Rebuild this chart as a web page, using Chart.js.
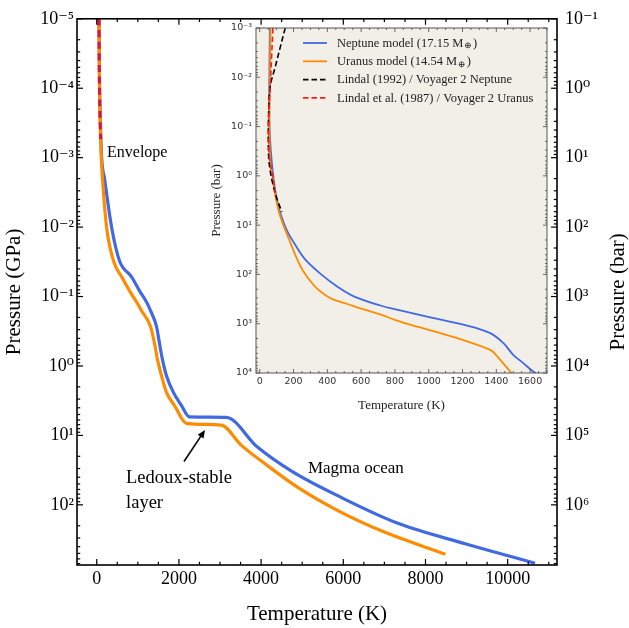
<!DOCTYPE html>
<html>
<head>
<meta charset="utf-8">
<script src="https://cdn.jsdelivr.net/npm/chart.js@4.4.0/dist/chart.umd.min.js"></script>
<style>
  html, body { margin: 0; padding: 0; background: #fff; }
  #wrap { position: relative; width: 629px; height: 628px; }
  #main { position: absolute; left: 0; top: 0; }
  #inset { position: absolute; left: 195px; top: 15px; }
</style>
</head>
<body>
<div id="wrap">
  <canvas id="main" width="629" height="628"></canvas>
  <canvas id="inset" width="360" height="405"></canvas>
</div>
<script>
// ─── profiles, full depth (T in K, P in GPa) ───────────────────────────────
const nepT = [55, 60, 70, 90, 120, 190, 364, 558, 848, 1042, 1212, 1309, 1454, 1527, 1600, 1697, 1866, 2060, 2254, 3151, 3903, 4751, 5963, 7345, 8969, 10666];
const nepP = [1e-5, 3.16e-5, 1e-4, 3.16e-4, 1e-3, 2.0e-3, 1.02e-2, 3.1e-2, 5.2e-2, 8.3e-2, 0.12, 0.16, 0.27, 0.47, 0.81, 1.38, 2.4, 3.7, 5.4, 5.5, 14.6, 33, 79, 186, 363, 692];

const uraT = [55, 68, 85, 110, 140, 242, 412, 606, 800, 970, 1091, 1309, 1406, 1479, 1576, 1697, 1891, 2182, 3030, 3515, 4121, 4921, 5890, 7030, 8484];
const uraP = [1e-5, 1e-4, 3.16e-4, 1e-3, 2.0e-3, 1.02e-2, 3.1e-2, 5.2e-2, 8.3e-2, 0.12, 0.16, 0.27, 0.47, 0.81, 1.38, 2.4, 3.7, 6.7, 7.1, 13.8, 26.3, 57.5, 123, 251, 513];

// Voyager 2 radio occultation, Uranus (GPa)
const lindalUraT = [55, 68, 85, 97];
const lindalUraP = [1e-5, 1e-4, 3.16e-4, 5.4e-4];

// ─── inset: outer layers (T in K, P in bar) ────────────────────────────────
const inNepT = [60, 57, 56, 58, 66, 80, 97, 122, 160, 210, 270, 364, 460, 560, 713, 831, 1009, 1204, 1364, 1441, 1500, 1560, 1618, 1635];
const inNepP = [1e-3, 1e-2, 3.16e-2, 0.1, 0.316, 1, 2.5, 5.75, 12.6, 25.1, 50.1, 100, 178, 282, 427, 537, 741, 1047, 1549, 2455, 4266, 6310, 9333, 1e4];

const inUraT = [64, 60, 57, 62, 75, 92, 115, 140, 175, 210, 255, 320, 365, 430, 520, 606, 713, 800, 890, 1108, 1364, 1403, 1440, 1482, 1490];
const inUraP = [1e-3, 1.58e-2, 0.1, 0.5, 1, 2.5, 5.6, 10, 20, 39.8, 83, 166, 229, 316, 398, 501, 646, 832, 1047, 1698, 3388, 4467, 6310, 9333, 1e4];

const lindalNepT = [151, 121, 91, 62, 52, 52, 60, 72, 100, 131];
const lindalNepP = [1e-3, 2.5e-3, 6.3e-3, 1.55e-2, 7.4e-2, 0.35, 0.71, 1.2, 2.8, 5.4];

const inLindalUraT = [78, 70, 62, 52, 55, 65, 78, 92];
const inLindalUraP = [1e-3, 4e-3, 1.55e-2, 7.4e-2, 0.35, 0.63, 1.05, 2.2];

// ─── axis ticks ────────────────────────────────────────────────────────────
const tempTicks = [0, 2000, 4000, 6000, 8000, 10000];
const gpaTicks = [1e-5, 1e-4, 1e-3, 1e-2, 1e-1, 1, 10, 100];
const barTicks = [1e-1, 1, 10, 100, 1e3, 1e4, 1e5, 1e6];
const inTempTicks = [0, 200, 400, 600, 800, 1000, 1200, 1400, 1600];
const inBarTicks = [1e-3, 1e-2, 1e-1, 1, 10, 100, 1e3, 1e4];

// annotation anchors (data coordinates, main panel)
const notes = [
  { text: 'Envelope', T: 251, P: 8.5e-4, size: 16 },
  { text: 'Ledoux-stable', T: 713, P: 41.4, size: 18.5 },
  { text: 'layer', T: 713, P: 93, size: 18.5 },
  { text: 'Magma ocean', T: 5140, P: 29.9, size: 17 }
];
const arrowFrom = { T: 2124, P: 23.7 };
const arrowTo = { T: 2635, P: 8.34 };

// ─── helpers ───────────────────────────────────────────────────────────────
const SERIF = "'Liberation Serif', 'DejaVu Serif', serif";
const SANS = "'DejaVu Sans', sans-serif";
const BLUE = '#4169e1';
const ORANGE = '#ff8c00';

const SUP = { '-': '⁻', '0': '⁰', '1': '¹', '2': '²', '3': '³', '4': '⁴', '5': '⁵', '6': '⁶', '7': '⁷', '8': '⁸', '9': '⁹' };
function pow10(v) {
  const e = Math.round(Math.log10(v));
  return '10' + String(e).split('').map(c => SUP[c]).join('');
}

function pts(xs, ys) {
  return xs.map((x, i) => ({ x, y: ys[i] }));
}

function logMinor(lo, hi) {
  const out = [];
  for (let e = lo; e <= hi; e++) for (let k = 2; k <= 9; k++) out.push(k * Math.pow(10, e));
  return out;
}

function linMinor(step, lo, hi, major) {
  const out = [];
  for (let v = lo; v <= hi; v += step) if (!major.includes(v)) out.push(v);
  return out;
}

function fixTicks(list) {
  return scale => { scale.ticks = list.map(v => ({ value: v })); };
}

// inward ticks on every side that asks for them, plus the frame
const frameTicks = {
  id: 'frameTicks',
  afterDraw(chart, args, o) {
    const { ctx, chartArea: ca } = chart;
    ctx.save();
    ctx.strokeStyle = o.color;
    ctx.lineWidth = o.tickWidth;
    for (const ax of o.axes) {
      const s = chart.scales[ax.id];
      const lo = Math.min(s.min, s.max), hi = Math.max(s.min, s.max);
      const mark = (v, len) => {
        if (v < lo || v > hi) return;
        const p = s.getPixelForValue(v);
        ctx.beginPath();
        for (const side of ax.sides) {
          if (side === 'bottom') { ctx.moveTo(p, ca.bottom); ctx.lineTo(p, ca.bottom - len); }
          if (side === 'top') { ctx.moveTo(p, ca.top); ctx.lineTo(p, ca.top + len); }
          if (side === 'left') { ctx.moveTo(ca.left, p); ctx.lineTo(ca.left + len, p); }
          if (side === 'right') { ctx.moveTo(ca.right, p); ctx.lineTo(ca.right - len, p); }
        }
        ctx.stroke();
      };
      ax.minor.forEach(v => mark(v, o.minorLen));
      ax.major.forEach(v => mark(v, o.majorLen));
    }
    ctx.strokeStyle = o.frameColor;
    ctx.lineWidth = o.frameWidth;
    ctx.strokeRect(ca.left, ca.top, ca.width, ca.height);
    ctx.restore();
  }
};

// text labels, arrow and right-hand axis title on the main panel
const mainNotes = {
  id: 'mainNotes',
  afterDraw(chart) {
    const { ctx } = chart;
    const x = chart.scales.x, y = chart.scales.y;
    ctx.save();
    ctx.fillStyle = '#000';
    ctx.textBaseline = 'middle';
    ctx.textAlign = 'left';
    notes.forEach(n => {
      ctx.font = n.size + 'px ' + SERIF;
      ctx.fillText(n.text, x.getPixelForValue(n.T), y.getPixelForValue(n.P));
    });

    const x0 = x.getPixelForValue(arrowFrom.T), y0 = y.getPixelForValue(arrowFrom.P);
    const x1 = x.getPixelForValue(arrowTo.T), y1 = y.getPixelForValue(arrowTo.P);
    const ang = Math.atan2(y1 - y0, x1 - x0);
    const head = 8, back = 5;
    ctx.strokeStyle = '#000';
    ctx.lineWidth = 1.6;
    ctx.beginPath();
    ctx.moveTo(x0, y0);
    ctx.lineTo(x1 - Math.cos(ang) * back, y1 - Math.sin(ang) * back);
    ctx.stroke();
    ctx.beginPath();
    ctx.moveTo(x1, y1);
    ctx.lineTo(x1 - head * Math.cos(ang) + 3.5 * Math.sin(ang), y1 - head * Math.sin(ang) - 3.5 * Math.cos(ang));
    ctx.lineTo(x1 - head * Math.cos(ang) - 3.5 * Math.sin(ang), y1 - head * Math.sin(ang) + 3.5 * Math.cos(ang));
    ctx.closePath();
    ctx.fill();

    // right axis title reads bottom-to-top like the left one
    const ca = chart.chartArea;
    ctx.translate(618, (ca.top + ca.bottom) / 2);
    ctx.rotate(-Math.PI / 2);
    ctx.textAlign = 'center';
    ctx.font = '21px ' + SERIF;
    ctx.fillText('Pressure (bar)', 0, 0);
    ctx.restore();
  }
};

// beige panel behind the inset plot area
const insetBg = {
  id: 'insetBg',
  beforeDraw(chart) {
    const { ctx, chartArea: ca } = chart;
    ctx.save();
    ctx.fillStyle = '#f2efe9';
    ctx.fillRect(ca.left, ca.top, ca.width, ca.height);
    ctx.restore();
  }
};

// legend drawn inside the inset panel, in dataset order; ⊕ goes as a subscript
const insetLegend = {
  id: 'insetLegend',
  afterDraw(chart) {
    const { ctx } = chart;
    const x0 = 108, x1 = 132, tx = 142, top = 28, gap = 18.3;
    const font = '12.5px ' + SERIF, small = '9px ' + SERIF;
    ctx.save();
    ctx.textBaseline = 'middle';
    ctx.fillStyle = '#222';
    chart.data.datasets.forEach((ds, i) => {
      const yy = top + i * gap;
      ctx.strokeStyle = ds.borderColor;
      ctx.lineWidth = ds.borderWidth;
      ctx.setLineDash(ds.borderDash || []);
      ctx.beginPath();
      ctx.moveTo(x0, yy);
      ctx.lineTo(x1, yy);
      ctx.stroke();
      ctx.setLineDash([]);

      const parts = ds.label.split('⊕');
      ctx.font = font;
      let cx = tx;
      ctx.fillText(parts[0], cx, yy + 0.5);
      if (parts.length > 1) {
        cx += ctx.measureText(parts[0]).width + 1;
        ctx.font = small;
        ctx.fillText('⊕', cx, yy + 3);
        cx += ctx.measureText('⊕').width + 1;
        ctx.font = font;
        ctx.fillText(parts[1], cx, yy + 0.5);
      }
    });
    ctx.restore();
  }
};

// ─── main panel ────────────────────────────────────────────────────────────
const lineBase = { showLine: true, pointRadius: 0, fill: false };
const mainLine = { ...lineBase, cubicInterpolationMode: 'monotone' };
const insetLine = { ...lineBase, tension: 0.35 };

new Chart(document.getElementById('main'), {
  type: 'scatter',
  data: {
    datasets: [
      { ...mainLine, label: 'Neptune model', data: pts(nepT, nepP), borderColor: BLUE, borderWidth: 3.2, order: 2 },
      { ...mainLine, label: 'Uranus model', data: pts(uraT, uraP), borderColor: ORANGE, borderWidth: 3.2, order: 1 },
      { ...mainLine, label: 'Lindal et al. (1987)', data: pts(lindalUraT, lindalUraP), borderColor: '#dc143c', borderWidth: 3, borderDash: [7, 4.5], order: 0 }
    ]
  },
  options: {
    responsive: false,
    animation: false,
    layout: { padding: { left: 0, right: 0, top: 11, bottom: 0 } },
    plugins: {
      legend: { display: false },
      tooltip: { enabled: false },
      frameTicks: {
        color: '#000', tickWidth: 1.2, frameColor: '#000', frameWidth: 1.6, majorLen: 6, minorLen: 3.2,
        axes: [
          { id: 'x', major: tempTicks, minor: linMinor(500, 0, 11000, tempTicks), sides: ['bottom', 'top'] },
          { id: 'y', major: gpaTicks, minor: logMinor(-6, 3), sides: ['left'] },
          { id: 'y2', major: barTicks, minor: logMinor(-2, 7), sides: ['right'] }
        ]
      }
    },
    scales: {
      x: {
        type: 'linear', position: 'bottom', min: -480, max: 11200,
        afterBuildTicks: fixTicks(tempTicks),
        afterFit: s => { s.height = 63; },
        grid: { display: false, drawTicks: false },
        border: { display: false },
        ticks: { font: { family: SERIF, size: 18 }, color: '#000', padding: 3, maxRotation: 0, autoSkip: false, callback: v => String(v) },
        title: { display: true, text: 'Temperature (K)', font: { family: SERIF, size: 21 }, color: '#000', padding: { bottom: 1 } }
      },
      y: {
        type: 'logarithmic', position: 'left', reverse: true, min: 1e-5, max: 735,
        afterBuildTicks: fixTicks(gpaTicks),
        afterFit: s => { s.width = 77; },
        grid: { display: false, drawTicks: false },
        border: { display: false },
        ticks: { font: { family: SERIF, size: 18 }, color: '#000', padding: 3, autoSkip: false, callback: v => pow10(v) },
        title: { display: true, text: 'Pressure (GPa)', font: { family: SERIF, size: 21 }, color: '#000', padding: { top: 2 } }
      },
      y2: {
        type: 'logarithmic', position: 'right', reverse: true, min: 1e-1, max: 7.35e6, display: true,
        afterBuildTicks: fixTicks(barTicks),
        afterFit: s => { s.width = 72; },
        grid: { display: false, drawTicks: false },
        border: { display: false },
        ticks: { font: { family: SERIF, size: 18 }, color: '#000', padding: 8, autoSkip: false, callback: v => pow10(v) }
      }
    }
  },
  plugins: [frameTicks, mainNotes]
});

// ─── inset panel ───────────────────────────────────────────────────────────
new Chart(document.getElementById('inset'), {
  type: 'scatter',
  data: {
    datasets: [
      { ...insetLine, label: 'Neptune model (17.15 M⊕)', data: pts(inNepT, inNepP), borderColor: BLUE, borderWidth: 1.8, order: 3 },
      { ...insetLine, label: 'Uranus model (14.54 M⊕)', data: pts(inUraT, inUraP), borderColor: ORANGE, borderWidth: 1.8, order: 2 },
      { ...insetLine, label: 'Lindal (1992) / Voyager 2 Neptune', data: pts(lindalNepT, lindalNepP), borderColor: '#000', borderWidth: 1.6, borderDash: [5.5, 3], order: 1 },
      { ...insetLine, label: 'Lindal et al. (1987) / Voyager 2 Uranus', data: pts(inLindalUraT, inLindalUraP), borderColor: '#ff1a1a', borderWidth: 1.6, borderDash: [5.5, 3], order: 0 }
    ]
  },
  options: {
    responsive: false,
    animation: false,
    layout: { padding: { left: 0, right: 8, top: 13, bottom: 0 } },
    plugins: {
      legend: { display: false },
      tooltip: { enabled: false },
      frameTicks: {
        color: '#444', tickWidth: 0.8, frameColor: '#555', frameWidth: 1, majorLen: 4, minorLen: 2,
        axes: [
          { id: 'x', major: inTempTicks, minor: linMinor(50, 0, 1700, inTempTicks), sides: ['bottom', 'top'] },
          { id: 'y', major: inBarTicks, minor: logMinor(-4, 4), sides: ['left', 'right'] }
        ]
      }
    },
    scales: {
      x: {
        type: 'linear', position: 'bottom', min: -22, max: 1700,
        afterBuildTicks: fixTicks(inTempTicks),
        afterFit: s => { s.height = 47; },
        grid: { display: false, drawTicks: false },
        border: { display: false },
        ticks: { font: { family: SANS, size: 9.5 }, color: '#333', padding: 3, maxRotation: 0, autoSkip: false, callback: v => String(v) },
        title: { display: true, text: 'Temperature (K)', font: { family: SERIF, size: 13 }, color: '#222', padding: { bottom: 7 } }
      },
      y: {
        type: 'logarithmic', position: 'left', reverse: true, min: 1e-3, max: 1e4,
        afterBuildTicks: fixTicks(inBarTicks),
        afterFit: s => { s.width = 61; },
        grid: { display: false, drawTicks: false },
        border: { display: false },
        ticks: { font: { family: SANS, size: 9.5 }, color: '#333', padding: 4, autoSkip: false, callback: v => pow10(v) },
        title: { display: true, text: 'Pressure (bar)', font: { family: SERIF, size: 13 }, color: '#222', padding: { top: 14 } }
      }
    }
  },
  plugins: [insetBg, frameTicks, insetLegend]
});
</script>
</body>
</html>
